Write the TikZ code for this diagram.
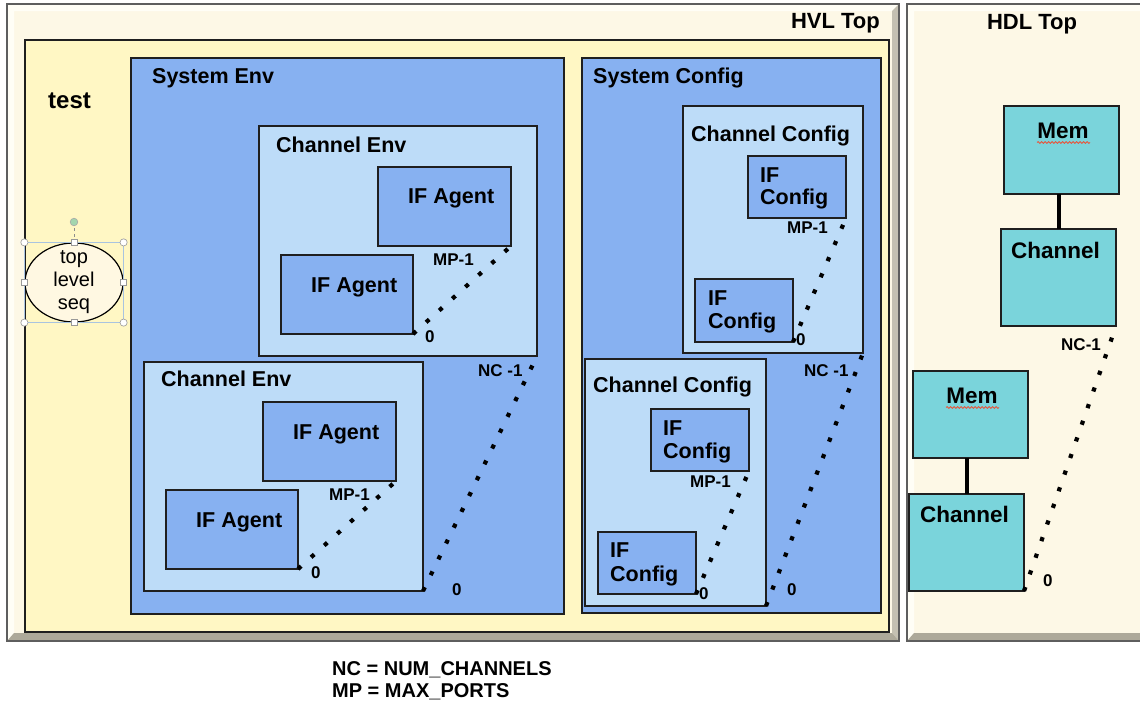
\documentclass[tikz,border=0pt]{standalone}
\usepackage{fontspec}
\setmainfont{Liberation Sans}
\usetikzlibrary{shapes.geometric,decorations.pathmorphing,calc}

\definecolor{cream}{HTML}{FDF8E6}
\definecolor{testyellow}{HTML}{FFF7C4}
\definecolor{sysblue}{HTML}{87B1F1}
\definecolor{chanblue}{HTML}{BDDCF8}
\definecolor{teal}{HTML}{7AD4DB}
\definecolor{seqfill}{HTML}{FFF8E2}
\definecolor{framegray}{HTML}{5E5E5E}
\definecolor{bevellight}{HTML}{FFFEF6}
\definecolor{beveldark}{HTML}{ADA99A}
\definecolor{bevelmid}{HTML}{C4C0B2}
\definecolor{selblue}{HTML}{A9C4E0}
\definecolor{rothandle}{HTML}{A3D6AE}
\definecolor{spellred}{HTML}{E8543A}

\begin{document}
\begin{tikzpicture}[x=1pt,y=-1pt,
  box/.style={anchor=north west, inner sep=0pt, outer sep=0pt, draw=black!88},
  framebox/.style={box, fill=cream, draw=framegray, line width=1.2pt},
  testbox/.style={box, fill=testyellow, line width=1.5pt},
  sysbox/.style={box, fill=sysblue, line width=2pt},
  chanbox/.style={box, fill=chanblue, line width=2pt},
  leafbox/.style={box, fill=sysblue, line width=2pt},
  hdlbox/.style={box, fill=teal, line width=1.6pt},
  lbl/.style={inner sep=0pt, anchor=base west, font=\bfseries\fontsize{21.5}{24}\selectfont},
  lblc/.style={lbl, anchor=base},
  idx/.style={inner sep=0pt, anchor=base west, font=\bfseries\fontsize{17}{20}\selectfont},
  dots/.style={line width=4.2pt, dash pattern=on 4.2pt off 13.4pt, line cap=butt},
  link/.style={line width=4pt},
  spell/.style={draw=spellred, line width=0.8pt, decorate,
    decoration={snake, amplitude=0.9pt, segment length=3.5pt}},
  handle/.style={fill=white, draw=black!40, line width=0.6pt}
]
\useasboundingbox (0,0) rectangle (1140,704);
\fill[white] (0,0) rectangle (1140,704);

% ---------- HVL Top frame with bevelled edge ----------
\node[framebox, minimum width=892, minimum height=637] (hvl) at (7,4) {};
\fill[bevellight] (hvl.north west) -- (hvl.north east) -- ++(-7,7) -- ++(-878,0) -- ++(0,623) -- (hvl.south west) -- cycle;
\fill[bevelmid] (hvl.north east) -- (hvl.south east) -- ++(-7,-8) -- ++(0,-622) -- cycle;
\fill[beveldark] (hvl.south west) -- (hvl.south east) -- ++(-7,-8) -- ++(-878,0) -- cycle;
\draw[framegray, line width=1.2pt] (hvl.north west) rectangle (hvl.south east);
\node[lbl, anchor=base east, font=\bfseries\fontsize{22}{24}\selectfont] (hvltitle) at (880,28) {HVL Top};

% ---------- HDL Top frame ----------
\node[framebox, minimum width=240, minimum height=637] (hdl) at (907,4) {};
\fill[bevellight] (hdl.north west) -- (hdl.north east) -- ++(-7,7) -- ++(-226,0) -- ++(0,623) -- (hdl.south west) -- cycle;
\fill[beveldark] (hdl.south west) -- (hdl.south east) -- ++(-7,-8) -- ++(-226,0) -- cycle;
\draw[framegray, line width=1.2pt] (hdl.north west) rectangle (hdl.south east);
\node[lblc, font=\bfseries\fontsize{22}{24}\selectfont] (hdltitle) at (1032,29) {HDL Top};

% ---------- test ----------
\node[testbox, minimum width=864, minimum height=592] (test) at (25,40) {};
\node[lbl, font=\bfseries\fontsize{24}{26}\selectfont] (testlbl) at (48,108) {test};

% top level sequence, shown selected
\node[draw=black, fill=seqfill, ellipse, line width=1.2pt, minimum width=98, minimum height=79,
      inner sep=0pt] (seq) at (74,282.5) {};
\node[inner sep=0pt, align=center, font=\fontsize{20}{23}\selectfont] (seqtext) at (seq.center) {top\\level\\seq};
\draw[selblue, line width=0.8pt] (seq.west |- seq.north) rectangle (seq.east |- seq.south);
\coordinate (rot) at (74,222);
\draw[black!45, dashed, line width=0.6pt] (rot) -- (seq.north);
\fill[rothandle, draw=black!35, line width=0.6pt] (rot) circle (3.8);
\foreach \c/\d in {west/north, east/north, west/south, east/south}
  \draw[handle] (seq.\c |- seq.\d) circle (3.6);
\foreach \c in {north, south, east, west}
  \draw[handle] ($(seq.\c)+(-3,-3)$) rectangle ++(6,6);

% ---------- System Env ----------
\node[sysbox, minimum width=433, minimum height=556] (se) at (131,58) {};
\node[lbl] (selbl) at (152,83) {System Env};

\node[chanbox, minimum width=278, minimum height=230] (ce1) at (259,126) {};
\node[lbl] (ce1lbl) at (276,152) {Channel Env};
\node[leafbox, minimum width=133, minimum height=79] (ag11) at (378,167) {};
\node[lbl] (ag11lbl) at (408,203) {IF Agent};
\node[leafbox, minimum width=132, minimum height=79] (ag12) at (281,255) {};
\node[lbl] (ag12lbl) at (311,292) {IF Agent};
\draw[dots] (ag12.south east) -- (ag11.south east);
\node[idx] (ce1mp) at (433,265) {MP-1};
\node[idx] (ce1zero) at (425,342) {0};

\node[chanbox, minimum width=279, minimum height=229] (ce2) at (144,362) {};
\node[lbl] (ce2lbl) at (161,386) {Channel Env};
\node[leafbox, minimum width=133, minimum height=79] (ag21) at (263,402) {};
\node[lbl] (ag21lbl) at (293,439) {IF Agent};
\node[leafbox, minimum width=132, minimum height=79] (ag22) at (166,490) {};
\node[lbl] (ag22lbl) at (196,527) {IF Agent};
\draw[dots] (ag22.south east) -- (ag21.south east);
\node[idx] (ce2mp) at (329,500) {MP-1};
\node[idx] (ce2zero) at (311,578) {0};

\draw[dots] (ce2.south east) -- (ce1.south east);
\node[idx] (senc) at (478,376) {NC -1};
\node[idx] (sezero) at (452,595) {0};

% ---------- System Config ----------
\node[sysbox, minimum width=299, minimum height=555] (sc) at (582,58) {};
\node[lbl] (sclbl) at (593,83) {System Config};

\node[chanbox, minimum width=180, minimum height=247] (cc1) at (683,106) {};
\node[lbl] (cc1lbl) at (691,141) {Channel Config};
\node[leafbox, minimum width=98, minimum height=62] (cf11) at (748,156) {};
\node[lbl] (cf11a) at (760,182) {IF};
\node[lbl] (cf11b) at (760,204) {Config};
\node[leafbox, minimum width=98, minimum height=63] (cf12) at (695,279) {};
\node[lbl] (cf12a) at (708,305) {IF};
\node[lbl] (cf12b) at (708,328) {Config};
\draw[dots] (cf12.south east) -- (cf11.south east);
\node[idx] (cc1mp) at (787,233) {MP-1};
\node[idx] (cc1zero) at (796,345) {0};

\node[chanbox, minimum width=181, minimum height=247] (cc2) at (585,359) {};
\node[lbl] (cc2lbl) at (593,392) {Channel Config};
\node[leafbox, minimum width=98, minimum height=62] (cf21) at (651,409) {};
\node[lbl] (cf21a) at (663,435) {IF};
\node[lbl] (cf21b) at (663,458) {Config};
\node[leafbox, minimum width=98, minimum height=62] (cf22) at (598,532) {};
\node[lbl] (cf22a) at (610,557) {IF};
\node[lbl] (cf22b) at (610,581) {Config};
\draw[dots] (cf22.south east) -- (cf21.south east);
\node[idx] (cc2mp) at (690,487) {MP-1};
\node[idx] (cc2zero) at (699,599) {0};

\draw[dots] (cc2.south east) -- (cc1.south east);
\node[idx] (scnc) at (804,376) {NC -1};
\node[idx] (sczero) at (787,595) {0};

% ---------- HDL side ----------
\node[hdlbox, minimum width=115, minimum height=88] (mem1) at (1004,106) {};
\node[lblc, font=\bfseries\fontsize{22.5}{24}\selectfont] (mem1lbl) at (1063,138) {Mem};
\draw[spell] (1037,142.5) -- (1090,142.5);
\node[hdlbox, minimum width=115, minimum height=97] (ch1) at (1001,229) {};
\node[lbl, font=\bfseries\fontsize{22.5}{24}\selectfont] (ch1lbl) at (1011,258) {Channel};
\draw[link] (ch1.north) -- (ch1.north |- mem1.south);

\node[hdlbox, minimum width=115, minimum height=87] (mem2) at (913,371) {};
\node[lblc, font=\bfseries\fontsize{22.5}{24}\selectfont] (mem2lbl) at (972,403) {Mem};
\draw[spell] (946,407.5) -- (999,407.5);
\node[hdlbox, minimum width=115, minimum height=97] (ch2) at (909,494) {};
\node[lbl, font=\bfseries\fontsize{22.5}{24}\selectfont] (ch2lbl) at (920,522) {Channel};
\draw[link] (ch2.north) -- (ch2.north |- mem2.south);

\draw[dots] (ch2.south east) -- (ch1.south east);
\node[idx] (hdlnc) at (1061,350) {NC-1};
\node[idx] (hdlzero) at (1043,586) {0};

% ---------- legend ----------
\node[lbl, font=\bfseries\fontsize{20}{22}\selectfont] (leg1) at (332,675) {NC = NUM\_CHANNELS};
\node[lbl, font=\bfseries\fontsize{20}{22}\selectfont] (leg2) at (332,697) {MP = MAX\_PORTS};
\end{tikzpicture}
\end{document}
